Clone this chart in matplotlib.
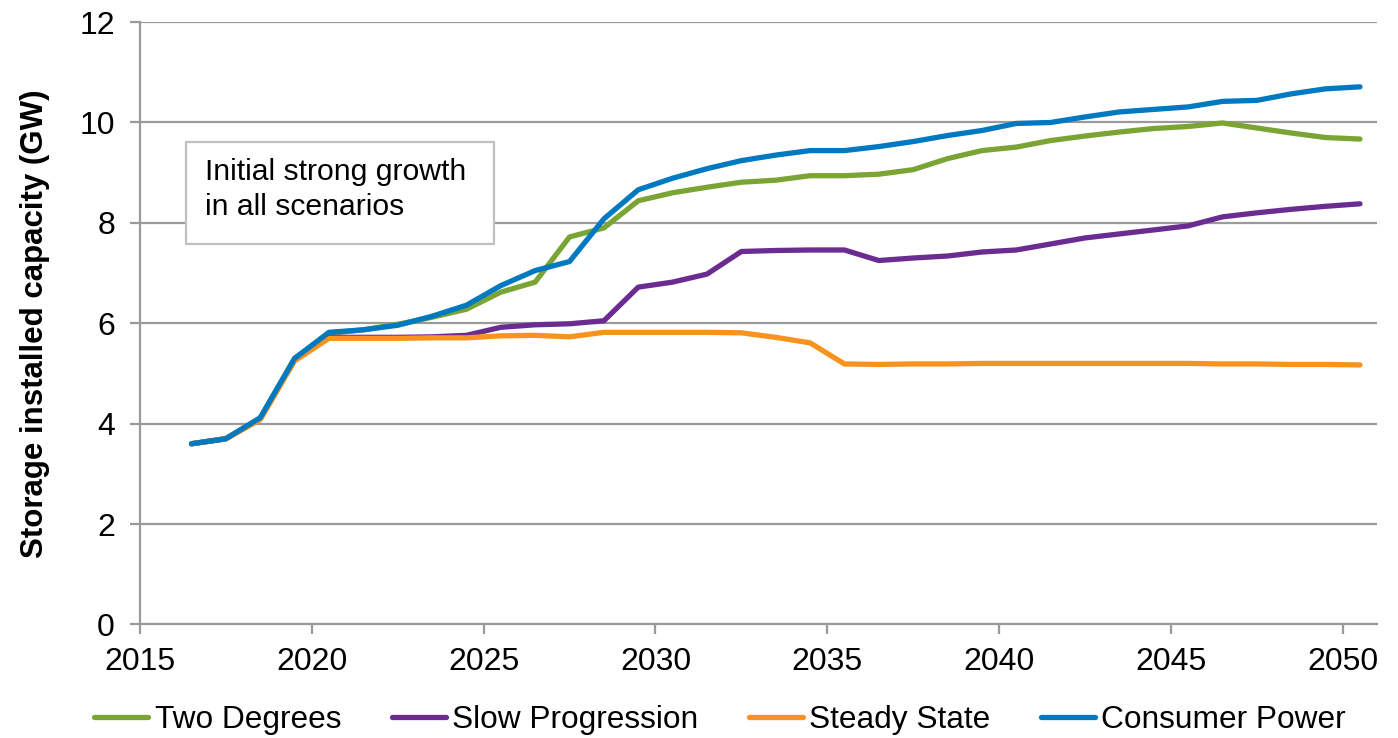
import numpy as np
import matplotlib.pyplot as plt
from matplotlib.patches import Rectangle

plt.rcParams['font.family'] = ['Liberation Sans', 'DejaVu Sans']

years = np.arange(2016, 2051)

two_degrees = [3.6, 3.7, 4.1, 5.3, 5.8, 5.87, 5.98, 6.12, 6.28, 6.62, 6.82, 7.72, 7.9, 8.44, 8.6,
               8.71, 8.81, 8.85, 8.94, 8.94, 8.97, 9.06, 9.28, 9.44, 9.51, 9.64, 9.73, 9.81, 9.88,
               9.92, 9.99, 9.89, 9.79, 9.7, 9.67]
slow_progression = [3.6, 3.7, 4.1, 5.28, 5.72, 5.72, 5.72, 5.73, 5.76, 5.92, 5.97, 5.99, 6.05, 6.72,
                    6.82, 6.98, 7.43, 7.45, 7.46, 7.46, 7.25, 7.3, 7.34, 7.42, 7.46, 7.58, 7.7, 7.78,
                    7.86, 7.94, 8.12, 8.2, 8.27, 8.33, 8.38]
steady_state = [3.6, 3.7, 4.08, 5.25, 5.7, 5.7, 5.7, 5.71, 5.71, 5.75, 5.76, 5.73, 5.82, 5.82, 5.82,
                5.82, 5.81, 5.72, 5.61, 5.19, 5.18, 5.19, 5.19, 5.2, 5.2, 5.2, 5.2, 5.2, 5.2, 5.2,
                5.19, 5.19, 5.18, 5.18, 5.17]
consumer_power = [3.6, 3.7, 4.12, 5.3, 5.82, 5.87, 5.96, 6.14, 6.36, 6.75, 7.05, 7.23, 8.08, 8.66,
                  8.89, 9.08, 9.24, 9.35, 9.44, 9.44, 9.52, 9.62, 9.74, 9.84, 9.98, 10.0, 10.11,
                  10.21, 10.26, 10.31, 10.42, 10.44, 10.57, 10.67, 10.71]

series = [('Two Degrees', two_degrees, '#7AA535'),
          ('Slow Progression', slow_progression, '#6A2C91'),
          ('Steady State', steady_state, '#F7931E'),
          ('Consumer Power', consumer_power, '#0079C1')]

fig = plt.figure(figsize=(13.98, 7.38), dpi=100)
ax = fig.add_axes([0.1001, 0.1538, 0.885, 0.8163])

# values sit mid-year on the date axis
for name, vals, col in series:
    ax.plot(years + 0.5, vals, color=col, lw=3.8, label=name,
            solid_capstyle='round', solid_joinstyle='round', zorder=3)

ax.set_xlim(2015, 2051)
ax.set_ylim(0, 12)
ax.set_xticks(range(2015, 2051, 5))
ax.set_yticks(range(0, 13, 2))
ax.grid(axis='y', color='#9a9a9a', lw=1.6, zorder=0)
ax.set_axisbelow(True)
for s in ['top', 'right']:
    ax.spines[s].set_visible(False)
for s in ['left', 'bottom']:
    ax.spines[s].set_color('#9a9a9a')
    ax.spines[s].set_linewidth(1.6)
ax.tick_params(axis='both', colors='#9a9a9a', width=1.6, length=7, labelsize=23,
               labelcolor='black')
ax.tick_params(axis='y', pad=11)
ax.tick_params(axis='x', pad=9)
ax.set_ylabel('Storage installed capacity (GW)', fontsize=22.5, fontweight='bold', labelpad=21)

# annotation box
ax.add_patch(Rectangle((2016.34, 7.58), 8.97, 2.04, facecolor='white', edgecolor='#c0c0c0',
                       lw=1.6, zorder=2))
ax.text(2016.89, 9.02, 'Initial strong growth', fontsize=21.7, va='center', ha='left', zorder=4)
ax.text(2016.89, 8.32, 'in all scenarios', fontsize=21.7, va='center', ha='left', zorder=4)

fig.legend(loc='center', bbox_to_anchor=(720 / 1398, 18 / 738), ncol=4, frameon=False,
           fontsize=22.8, handlelength=1.7, handletextpad=0.2, columnspacing=1.6)

fig.savefig('out.png', dpi=100)
